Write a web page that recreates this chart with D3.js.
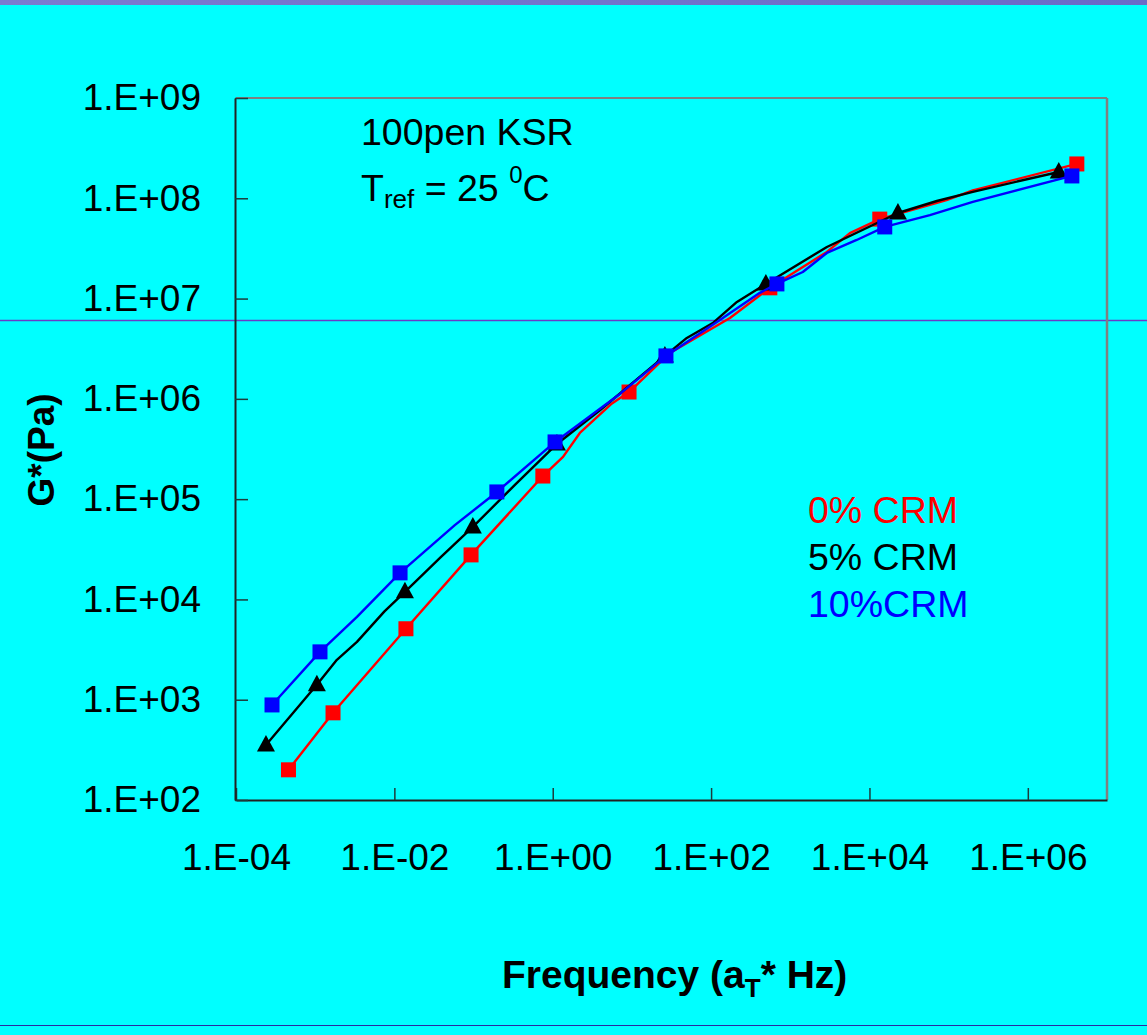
<!DOCTYPE html>
<html>
<head>
	<script src="https://d3js.org/d3.v7.min.js"></script>
	<meta charset="utf-8">
	<title>G* master curves</title>
	<style>
		body { margin: 0; background: #00ffff; }
		text { font-family: "Liberation Sans", Arial, sans-serif; }
	</style>
</head>
<body>
	<div id="chart"></div>

	<script type="text/javascript">

		// marker points (frequency in Hz, G* in Pa)
		var freq0 = [4.6e-4, 1.68e-3, 1.4e-2, 9.3e-2, 0.75, 9.2, 552, 1.35e4, 4.16e6];
		var g0    = [2.0e2, 7.4e2, 5.1e3, 2.78e4, 1.7e5, 1.17e6, 1.28e7, 6.2e7, 2.2e8];

		var freq5 = [2.39e-4, 1.05e-3, 1.36e-2, 9.8e-2, 1.13, 26.1, 492, 2.29e4, 2.46e6];
		var g5    = [3.54e2, 1.41e3, 1.19e4, 5.28e4, 3.55e5, 2.68e6, 1.4e7, 7.13e7, 1.83e8];

		var freq10 = [2.85e-4, 1.15e-3, 1.18e-2, 0.197, 1.07, 26.9, 678, 1.56e4, 3.6e6];
		var g10    = [8.87e2, 3.0e3, 1.84e4, 1.18e5, 3.72e5, 2.68e6, 1.4e7, 5.18e7, 1.67e8];

		// extra line vertices between the markers (no marker drawn there)
		var lineFreq0 = [5.6, 30.2, 173, 2.9e3, 5.66e3, 9.4e4, 2.02e5, 1.35, 2.2];
		var lineG0    = [9.0e5, 2.87e6, 6.4e6, 2.92e7, 4.5e7, 9.6e7, 1.2e8, 2.64e5, 4.57e5];

		var lineFreq5 = [1.88e-3, 3.37e-3, 7.5e-3, 3.77e-2, 0.333, 3.94, 49.4, 105, 212, 2.9e3, 7.1e4, 2.02e5];
		var lineG5    = [2.5e3, 3.77e3, 7.6e3, 2.6e4, 1.39e5, 7.7e5, 4.05e6, 5.7e6, 9.25e6, 3.27e7, 9.4e7, 1.16e8];

		var lineFreq10 = [3.37e-3, 5.8e-2, 7.05, 129, 413, 1.44e3, 2.9e3, 6.9e3, 5.8e4, 2.02e5];
		var lineG10    = [6.7e3, 5.5e4, 1.12e6, 6.1e6, 1.14e7, 1.84e7, 2.85e7, 3.84e7, 6.8e7, 9.2e7];

		var seriesNames = ["0% CRM", "5% CRM", "10%CRM"];
		var seriesColors = ["#ff0000", "#000000", "#0000ff"];
		var seriesShapes = ["square", "triangle", "square"];

		var xTicks = [1e-4, 1e-2, 1, 1e2, 1e4, 1e6];
		var yTicks = [1e2, 1e3, 1e4, 1e5, 1e6, 1e7, 1e8, 1e9];

		var svgwidth = 1147;
		var svgheight = 1035;
		var plotLeft = 236, plotRight = 1107, plotTop = 98, plotBottom = 800;

		var svg = d3.select("#chart").append("svg")
			.attr("width", svgwidth)
			.attr("height", svgheight);

		svg.append("rect")
			.attr("width", svgwidth)
			.attr("height", svgheight)
			.attr("fill", "#00ffff");

		// slide decoration
		var grad = svg.append("defs").append("linearGradient")
			.attr("id", "topbar");
		grad.append("stop").attr("offset", "0%").attr("stop-color", "#7b7bd0");
		grad.append("stop").attr("offset", "100%").attr("stop-color", "#6a6ac8");
		svg.append("rect")
			.attr("x", 0).attr("y", 0)
			.attr("width", svgwidth).attr("height", 5)
			.attr("fill", "url(#topbar)");
		svg.append("line")
			.attr("x1", 0).attr("x2", svgwidth)
			.attr("y1", 320.5).attr("y2", 320.5)
			.attr("stroke", "#6a3cc8")
			.attr("stroke-width", 1.5);
		svg.append("line")
			.attr("x1", 0).attr("x2", svgwidth)
			.attr("y1", 1025.5).attr("y2", 1025.5)
			.attr("stroke", "#2a2aa0")
			.attr("stroke-width", 1.2);

		var xScale = d3.scaleLog().domain([1e-4, 1e7]).range([plotLeft, plotRight]);
		var yScale = d3.scaleLog().domain([1e2, 1e9]).range([plotBottom, plotTop]);

		var fmt = function(d){
			var e = Math.round(Math.log10(d));
			var s = Math.abs(e) < 10 ? "0" + Math.abs(e) : "" + Math.abs(e);
			return "1.E" + (e < 0 ? "-" : "+") + s;
		};

		// plot border
		svg.append("line")
			.attr("x1", plotLeft).attr("x2", plotRight)
			.attr("y1", plotTop).attr("y2", plotTop)
			.attr("stroke", "#808080").attr("stroke-width", 2);
		svg.append("line")
			.attr("x1", plotRight).attr("x2", plotRight)
			.attr("y1", plotTop).attr("y2", plotBottom)
			.attr("stroke", "#808080").attr("stroke-width", 2.5);

		var xAxis = d3.axisBottom(xScale)
			.tickValues(xTicks)
			.tickFormat(fmt)
			.tickSizeInner(-12)
			.tickSizeOuter(0)
			.tickPadding(44);

		var yAxis = d3.axisLeft(yScale)
			.tickValues(yTicks)
			.tickFormat(fmt)
			.tickSizeInner(-13)
			.tickSizeOuter(0)
			.tickPadding(34);

		var gx = svg.append("g")
			.attr("transform", "translate(0," + plotBottom + ")")
			.call(xAxis);
		var gy = svg.append("g")
			.attr("transform", "translate(" + (plotLeft - 1) + ",0)")
			.call(yAxis);

		[gx, gy].forEach(function(g){
			g.select(".domain").attr("stroke", "#222").attr("stroke-width", 2);
			g.selectAll(".tick line").attr("stroke", "#1d3b3b").attr("stroke-width", 1.5);
			g.selectAll(".tick text")
				.attr("fill", "#000")
				.style("font-family", "'Liberation Sans', Arial, sans-serif")
				.style("font-size", "37px");
		});

		// build series from arrays
		var series = [
			{ mf: freq0, mg: g0, lf: lineFreq0, lg: lineG0 },
			{ mf: freq5, mg: g5, lf: lineFreq5, lg: lineG5 },
			{ mf: freq10, mg: g10, lf: lineFreq10, lg: lineG10 }
		].map(function(s, i){
			var markers = s.mf.map(function(f, j){ return { f: f, g: s.mg[j] }; });
			var extra = s.lf.map(function(f, j){ return { f: f, g: s.lg[j] }; });
			var pts = markers.concat(extra).sort(function(a, b){ return a.f - b.f; });
			return {
				name: seriesNames[i],
				color: seriesColors[i],
				shape: seriesShapes[i],
				markers: markers,
				line: pts
			};
		});

		var line = d3.line()
			.x(function(d){ return xScale(d.f); })
			.y(function(d){ return yScale(d.g); });

		series.forEach(function(s){
			var g = svg.append("g");
			g.append("path")
				.datum(s.line)
				.attr("d", line)
				.attr("fill", "none")
				.attr("stroke", s.color)
				.attr("stroke-width", 2.4)
				.attr("stroke-linejoin", "round");

			if (s.shape === "square") {
				g.selectAll("rect.mk")
					.data(s.markers).enter().append("rect")
					.attr("class", "mk")
					.attr("x", function(d){ return xScale(d.f) - 7.5; })
					.attr("y", function(d){ return yScale(d.g) - 7.5; })
					.attr("width", 15)
					.attr("height", 15)
					.attr("fill", s.color);
			} else {
				g.selectAll("path.mk")
					.data(s.markers).enter().append("path")
					.attr("class", "mk")
					.attr("transform", function(d){
						return "translate(" + xScale(d.f) + "," + yScale(d.g) + ")";
					})
					.attr("d", "M0,-10L9,6.5L-9,6.5Z")
					.attr("fill", s.color);
			}
		});

		// annotation
		svg.append("text")
			.attr("x", 361).attr("y", 145)
			.style("font-size", "37.5px")
			.text("100pen KSR");

		var tref = svg.append("text")
			.attr("x", 361).attr("y", 201)
			.style("font-size", "37.5px");
		tref.append("tspan").text("T");
		tref.append("tspan").attr("dy", 7).style("font-size", "26px").text("ref");
		tref.append("tspan").attr("dy", -7).text(" = 25 ");
		tref.append("tspan").attr("dy", -18).style("font-size", "24px").text("0");
		tref.append("tspan").attr("dy", 18).text("C");

		// legend texts
		svg.selectAll("text.leg")
			.data(series).enter().append("text")
			.attr("class", "leg")
			.attr("x", 808)
			.attr("y", function(d, i){ return 523 + i * 47; })
			.attr("fill", function(d){ return d.color; })
			.style("font-size", "37.5px")
			.text(function(d){ return d.name; });

		// axis titles
		svg.append("text")
			.attr("transform", "translate(54,450) rotate(-90)")
			.attr("text-anchor", "middle")
			.style("font-size", "37px")
			.style("font-weight", "bold")
			.text("G*(Pa)");

		var xt = svg.append("text")
			.attr("x", 502).attr("y", 988)
			.style("font-size", "39px")
			.style("font-weight", "bold");
		xt.append("tspan").text("Frequency (a");
		xt.append("tspan").attr("dy", 9).style("font-size", "26px").text("T");
		xt.append("tspan").attr("dy", -9).text("* Hz)");

	</script>
</body>
</html>
